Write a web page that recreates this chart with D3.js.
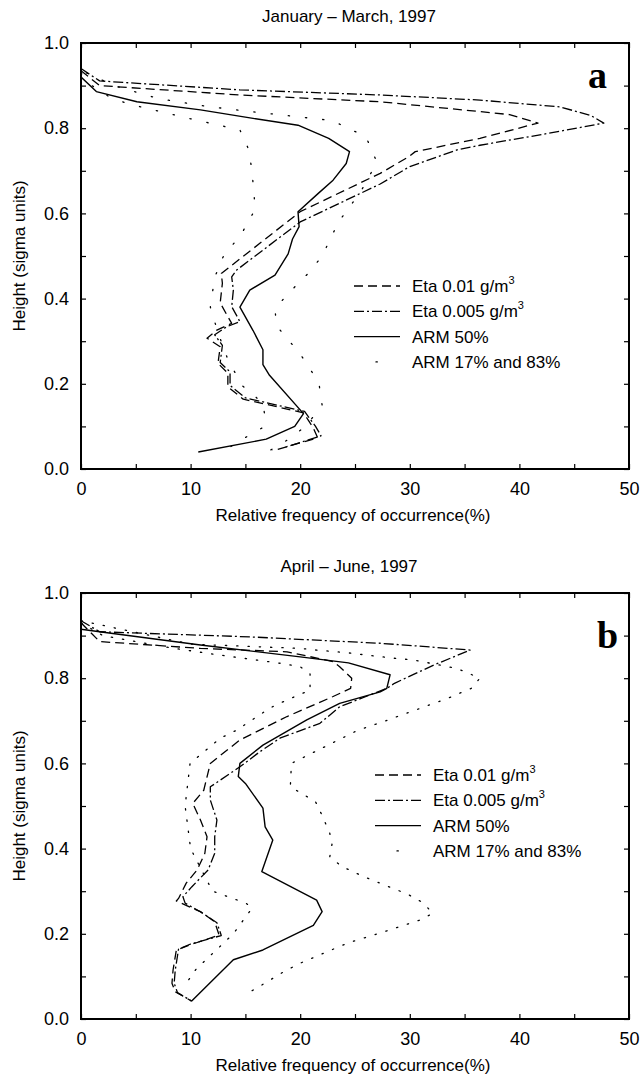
<!DOCTYPE html>
<html>
<head>
<meta charset="utf-8">
<script src="https://cdn.jsdelivr.net/npm/d3@7"></script>
<style>
  body { margin: 0; background: #fff; }
  svg { display: block; }
  text { font-family: "Liberation Sans", Arial, Helvetica, sans-serif; fill: #000; }
  text.letter { font-family: "Liberation Serif", "Times New Roman", serif; }
</style>
</head>
<body>
<svg id="chart" width="641" height="1076"></svg>
<script>
// ---------- data: [relative frequency (%), height (sigma)] ----------
const titles = ["January \u2013 March, 1997", "April \u2013 June, 1997"];
const panelLetters = ["a", "b"];
const xTickLabels = [0, 10, 20, 30, 40, 50];
const yTickLabels = [0.0, 0.2, 0.4, 0.6, 0.8, 1.0];
const legendLabels = ["Eta 0.01 g/m", "Eta 0.005 g/m", "ARM 50%", "ARM 17% and 83%"];

// Panel a (January - March)
const aEta01 = [[0,0.935],[1.7,0.90],[14.5,0.878],[27.3,0.862],[36.4,0.839],[39.1,0.832],[41.7,0.812],
  [36.4,0.776],[30.5,0.745],[29.9,0.733],[27.3,0.694],[20,0.604],[13.6,0.475],[12.8,0.459],[12.9,0.436],
  [12.7,0.39],[13.3,0.362],[13.75,0.342],[12.4,0.326],[11.5,0.307],[12.7,0.287],[12.5,0.248],[13.4,0.225],
  [13.4,0.193],[14.8,0.164],[20.3,0.132],[21.2,0.096],[21.6,0.073],[17.5,0.043]];
const aEta005 = [[0,0.94],[1.7,0.911],[14.5,0.89],[27.3,0.878],[36.4,0.866],[43.7,0.85],[46.5,0.83],[47.7,0.812],
  [42,0.785],[36.4,0.76],[34.3,0.749],[30.0,0.71],[27.3,0.669],[20,0.58],[14.2,0.467],[13.75,0.451],
  [13.9,0.42],[13.75,0.381],[14.5,0.346],[13.3,0.334],[12.2,0.315],[12.9,0.29],[12.7,0.25],[13.6,0.228],
  [13.6,0.196],[15.0,0.167],[20.4,0.135],[21.4,0.1],[21.9,0.078],[18.5,0.05]];
const aArm50 = [[0,0.92],[1.4,0.886],[5.1,0.862],[10.9,0.843],[15.7,0.823],[19.8,0.807],[22.6,0.776],
  [24.5,0.745],[24.2,0.717],[23.0,0.678],[21.65,0.647],[19.8,0.604],[19.9,0.569],[19.3,0.54],[18.9,0.505],
  [17.7,0.455],[15.4,0.42],[14.5,0.38],[15.7,0.325],[16.6,0.28],[16.6,0.245],[17.2,0.22],[20.3,0.13],
  [19.5,0.10],[16.9,0.07],[10.7,0.04]];
const aArm17 = [[0,0.93],[1.0,0.90],[2.5,0.875],[4.2,0.858],[6.6,0.843],[10,0.822],[14.5,0.796],
  [15.3,0.75],[15.6,0.70],[15.8,0.64],[15.9,0.61],[14.6,0.55],[13.0,0.5],[12.2,0.45],[11.8,0.38],
  [12.5,0.32],[13.4,0.257],[14.7,0.196],[15.5,0.179],[16.6,0.154],[16.8,0.12],[16.5,0.096],[15.0,0.074],[13.5,0.05]];
const aArm83 = [[0.5,0.93],[3,0.90],[7,0.87],[11.3,0.852],[14.8,0.841],[22.9,0.818],[26,0.78],
  [27,0.72],[25.5,0.65],[23.5,0.58],[22,0.5],[20.8,0.461],[19.6,0.43],[18.6,0.403],[17.7,0.375],
  [17.8,0.348],[18.1,0.328],[20,0.27],[21.7,0.203],[22,0.15],[20.5,0.10],[18.5,0.062],[17,0.04]];

// Panel b (April - June)
const bEta01 = [[0,0.93],[1.7,0.886],[10.9,0.87],[18.8,0.862],[23,0.839],[23.6,0.827],[24.7,0.80],
  [24.6,0.776],[23,0.757],[18.8,0.71],[14.5,0.655],[11.8,0.60],[11.2,0.537],[10.2,0.506],[10.9,0.467],
  [11.5,0.428],[11.3,0.389],[10.6,0.35],[9.6,0.319],[8.9,0.283],[8.7,0.277],[10.9,0.252],[12.2,0.228],
  [12.6,0.197],[9.95,0.174],[8.7,0.162],[8.4,0.115],[8.3,0.084],[8.6,0.064],[10.1,0.042]];
const bEta005 = [[0,0.935],[1.7,0.909],[15.4,0.897],[27.3,0.882],[31.5,0.874],[35.5,0.866],
  [32.2,0.831],[28.6,0.788],[27.9,0.776],[23.6,0.733],[21.8,0.694],[18.2,0.66],[16.3,0.627],[14.5,0.592],
  [11.8,0.545],[11.8,0.514],[12.4,0.467],[12.2,0.428],[12.2,0.389],[11.6,0.35],[10.1,0.31],[9.3,0.287],
  [9.5,0.272],[11.0,0.25],[12.4,0.226],[12.8,0.196],[10.0,0.176],[8.9,0.164],[8.6,0.115],[8.5,0.084],[8.8,0.062],[10.1,0.042]];
const bArm50 = [[0,0.915],[1.7,0.909],[10.9,0.878],[20,0.85],[24.4,0.836],[28.2,0.808],[27.9,0.776],
  [27.3,0.768],[23.6,0.741],[20.6,0.702],[16.6,0.643],[14.5,0.60],[14.35,0.569],[15.0,0.553],[16.6,0.495],
  [16.8,0.451],[17.5,0.42],[16.5,0.346],[21.5,0.279],[22.0,0.252],[21.2,0.22],[16.6,0.162],[13.9,0.139],[10.1,0.042]];
const bArm17 = [[0,0.93],[2,0.90],[8,0.872],[9.6,0.866],[11.9,0.857],[18.2,0.835],[20,0.827],[20.9,0.81],
  [20.9,0.772],[18.8,0.749],[17.4,0.732],[16.3,0.714],[14.2,0.678],[12.7,0.659],[9.95,0.60],[9.5,0.5],
  [10,0.4],[12,0.3],[15.05,0.272],[15.6,0.26],[13.9,0.20],[10.5,0.117],[9.5,0.08]];
const bArm83 = [[0,0.935],[10,0.88],[20,0.87],[21.5,0.866],[24.2,0.86],[28.5,0.847],[30.3,0.843],[34.3,0.823],
  [36.4,0.80],[35.6,0.776],[33.2,0.75],[32.2,0.741],[27.8,0.70],[25.2,0.677],[19.2,0.60],[19.1,0.545],
  [20.1,0.53],[21.4,0.51],[22.05,0.475],[22.7,0.436],[22.9,0.41],[22.7,0.381],[23.8,0.358],[25.8,0.334],
  [29.8,0.293],[31.2,0.273],[32.1,0.248],[30.9,0.232],[27.2,0.201],[24.4,0.179],[20,0.131],[18.5,0.111],[16,0.072],[15.1,0.059]];

// ---------- drawing ----------
const svg = d3.select("#chart");
const left = 81, right = 629;
const panels = [
  {top: 43, bottom: 469, title: titles[0], letter: panelLetters[0],
   series: [aEta01, aEta005, aArm50, aArm17, aArm83],
   legend: {x: 354, y: 286}, letterPos: {x: 588, y: 88}, dotDash: "1.3,16"},
  {top: 593, bottom: 1019, title: titles[1], letter: panelLetters[1],
   series: [bEta01, bEta005, bArm50, bArm17, bArm83],
   legend: {x: 375, y: 775}, letterPos: {x: 597, y: 648}, dotDash: "1.3,10"}
];

const styles = [
  {dash: "9,5", width: 1.3},           // Eta 0.01
  {dash: "10,3,2,3", width: 1.3},      // Eta 0.005
  {dash: null, width: 1.4},            // ARM 50%
  {dash: "1.3,12", width: 1.3},        // ARM 17%
  {dash: "1.3,12", width: 1.3}         // ARM 83%
];

panels.forEach(p => {
  const x = d3.scaleLinear().domain([0, 50]).range([left, right]);
  const y = d3.scaleLinear().domain([0, 1]).range([p.bottom, p.top]);
  const g = svg.append("g");

  // title
  g.append("text").attr("x", (left + right) / 2 - 6).attr("y", p.top - 21)
    .attr("text-anchor", "middle").attr("font-size", 17).text(p.title);

  // axes (ticks inward)
  const xMinor = d3.range(0, 51, 5);
  const yMinor = d3.range(0, 1.0001, 0.1);
  g.append("g").attr("transform", `translate(0,${p.bottom})`)
    .call(d3.axisTop(x).tickValues(xMinor).tickSize(5).tickFormat(""))
    .call(s => s.select(".domain").remove());
  g.append("g").attr("transform", `translate(0,${p.top})`)
    .call(d3.axisBottom(x).tickValues(xMinor).tickSize(5).tickFormat(""))
    .call(s => s.select(".domain").remove());
  g.append("g").attr("transform", `translate(${left},0)`)
    .call(d3.axisRight(y).tickValues(yMinor).tickSize(5).tickFormat(""))
    .call(s => s.select(".domain").remove());
  g.append("g").attr("transform", `translate(${right},0)`)
    .call(d3.axisLeft(y).tickValues(yMinor).tickSize(5).tickFormat(""))
    .call(s => s.select(".domain").remove());
  g.selectAll(".tick line").attr("stroke", "#000").attr("stroke-width", 1.2);

  // tick labels
  const xl = g.append("g").attr("transform", `translate(0,${p.bottom})`)
    .call(d3.axisBottom(x).tickValues(xTickLabels).tickSize(0).tickPadding(13).tickFormat(d3.format("d")));
  xl.select(".domain").remove();
  xl.selectAll("text").attr("font-size", 18).attr("font-family", "Liberation Sans, Arial, sans-serif");
  const yl = g.append("g").attr("transform", `translate(${left},0)`)
    .call(d3.axisLeft(y).tickValues(yTickLabels).tickSize(0).tickPadding(12).tickFormat(d3.format(".1f")));
  yl.select(".domain").remove();
  yl.selectAll("text").attr("font-size", 18).attr("font-family", "Liberation Sans, Arial, sans-serif");

  // frame
  g.append("rect").attr("x", left).attr("y", p.top)
    .attr("width", right - left).attr("height", p.bottom - p.top)
    .attr("fill", "none").attr("stroke", "#000").attr("stroke-width", 2);

  // axis titles
  g.append("text").attr("x", (left + right) / 2 - 2).attr("y", p.bottom + 52)
    .attr("text-anchor", "middle").attr("font-size", 17).text("Relative frequency of occurrence(%)");
  g.append("text").attr("transform", `translate(25,${(p.top + p.bottom) / 2}) rotate(-90)`)
    .attr("text-anchor", "middle").attr("font-size", 17).text("Height (sigma units)");

  // panel letter
  g.append("text").attr("class", "letter").attr("x", p.letterPos.x).attr("y", p.letterPos.y)
    .style("font-weight", "bold")
    .style("font-size", "38px").text(p.letter);

  // curves
  const line = d3.line().x(d => x(d[0])).y(d => y(d[1]));
  const clip = "clip" + p.letter;
  svg.append("clipPath").attr("id", clip).append("rect")
    .attr("x", left).attr("y", p.top).attr("width", right - left).attr("height", p.bottom - p.top);
  const cg = g.append("g").attr("clip-path", `url(#${clip})`);
  p.series.forEach((s, i) => {
    cg.append("path").datum(s).attr("d", line)
      .attr("fill", "none").attr("stroke", "#000")
      .attr("stroke-width", styles[i].width)
      .attr("stroke-linecap", i >= 3 ? "round" : "butt")
      .attr("stroke-linejoin", "round")
      .attr("stroke-dasharray", i >= 3 ? p.dotDash : styles[i].dash);
  });

  // legend
  const lg = g.append("g").attr("transform", `translate(${p.legend.x},${p.legend.y})`);
  legendLabels.forEach((lab, i) => {
    const yy = i * 25.3;
    const st = styles[i];
    if (i < 3) {
      lg.append("line").attr("x1", 0).attr("x2", 46).attr("y1", yy).attr("y2", yy)
        .attr("stroke", "#000").attr("stroke-width", st.width)
        .attr("stroke-dasharray", st.dash);
    } else {
      lg.append("line").attr("x1", 22).attr("x2", 24).attr("y1", yy).attr("y2", yy)
        .attr("stroke", "#000").attr("stroke-width", 1.3).attr("stroke-dasharray", st.dash)
        .attr("stroke-linecap", "round");
    }
    const t = lg.append("text").attr("x", 58).attr("y", yy + 6).attr("font-size", 17).text(lab);
    if (i < 2) {
      t.append("tspan").attr("dy", -8).attr("font-size", 11).text("3");
    }
  });
});
</script>
</body>
</html>
